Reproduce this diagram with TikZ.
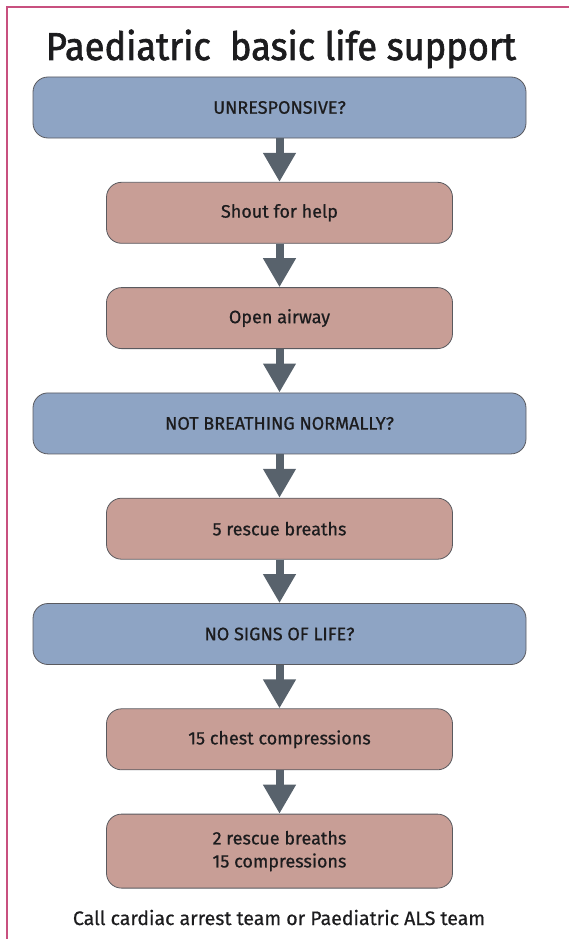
\documentclass[tikz,border=0pt]{standalone}
\usepackage{fontspec}
\setmainfont[FakeBold=0.7]{Fira Sans}
\newfontfamily\titlefont[FakeBold=1.6,FakeStretch=0.93]{Fira Sans}
\usepackage{tikz}
\usetikzlibrary{
  positioning,
  arrows.meta
}
\colorlet{question}{rgb,255:red,142;green,164;blue,196}
\colorlet{action}{rgb,255:red,200;green,158;blue,150}
\colorlet{flow}{rgb,255:red,88;green,98;blue,108}
\colorlet{edge}{rgb,255:red,90;green,90;blue,95}
\colorlet{frame}{rgb,255:red,200;green,80;blue,127}
\colorlet{ink}{rgb,255:red,28;green,28;blue,30}

\begin{document}
\begin{tikzpicture}[x=1pt,y=-1pt,
  node distance=43.5pt,
  every node/.style={text=ink},
  ask/.style={draw=edge,line width=0.8pt,fill=question,rounded corners=15pt,
    minimum width=493pt,minimum height=61pt,font=\fontsize{18}{23}\selectfont},
  act/.style={draw=edge,line width=0.8pt,fill=action,rounded corners=15pt,
    minimum width=346pt,minimum height=61pt,font=\fontsize{18}{23}\selectfont},
  down/.style={draw=flow,line width=8pt,-{Triangle[length=29pt,width=31pt]}}]
\useasboundingbox (0,0) rectangle (569,939);
\draw[frame,line width=1.2pt] (7,939) -- (7,7) -- (569,7);
\node[anchor=base,font=\titlefont\fontsize{39}{42}\selectfont] (title) at (281,60) {Paediatric\ \ basic life support};
\node[ask] (unresp) at (279.5,107.5) {UNRESPONSIVE?};
\node[act,below=of unresp] (shout) {Shout for help};
\node[act,below=of shout] (airway) {Open airway};
\node[ask,below=of airway] (notbreath) {NOT BREATHING NORMALLY?};
\node[act,below=of notbreath] (breaths) {5 rescue breaths};
\node[ask,below=of breaths] (nosigns) {NO SIGNS OF LIFE?};
\node[act,below=of nosigns] (compress) {15 chest compressions};
\node[act,below=of compress,minimum height=74pt,align=center] (cycle) {2 rescue breaths\\15 compressions};
\node[anchor=base,font=\fontsize{19.5}{22}\selectfont] (footer) at (279,925) {Call cardiac arrest team or Paediatric ALS team};
\foreach \a/\b in {unresp/shout,shout/airway,airway/notbreath,notbreath/breaths,
  breaths/nosigns,nosigns/compress,compress/cycle}
  \draw[down] (\a) -- (\b);
\end{tikzpicture}
\end{document}
